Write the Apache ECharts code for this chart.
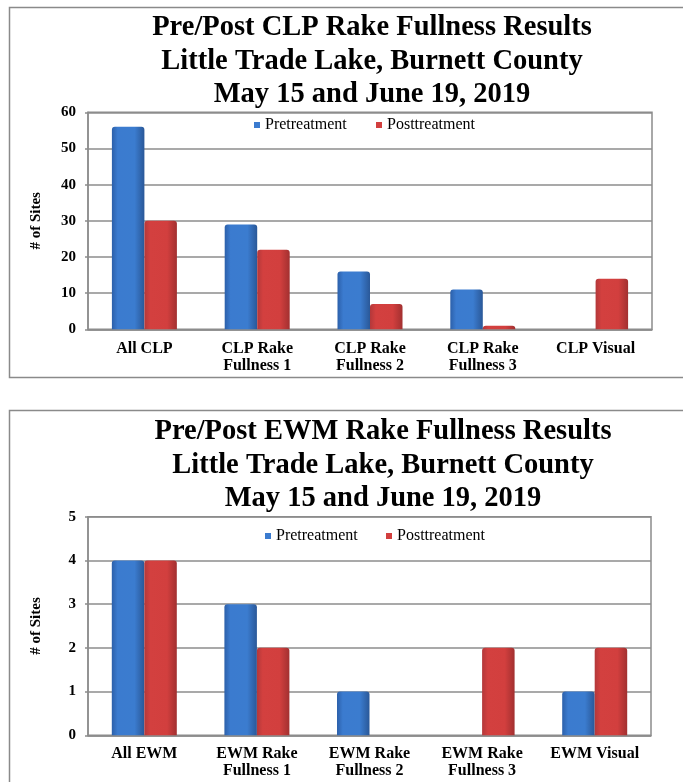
<!DOCTYPE html>
<html>
<head>
<meta charset="utf-8">
<title>Pre/Post Rake Fullness Results – Little Trade Lake</title>
<script src="https://cdn.jsdelivr.net/npm/echarts@6/dist/echarts.min.js"></script>
<style>
  html, body { margin: 0; padding: 0; background: #ffffff; }
  #chart { width: 683px; height: 782px; }
</style>
</head>
<body>
<div id="chart"></div>
<script>
// Curly-leaf pondweed (CLP) survey counts
const clpCategories = ['All CLP', 'CLP Rake\nFullness 1', 'CLP Rake\nFullness 2', 'CLP Rake\nFullness 3', 'CLP Visual'];
const clpPre = [56, 29, 16, 11, 0];
const clpPost = [30, 22, 7, 1, 14];
const clpAxisMax = 60;
const clpAxisStep = 10;

// Eurasian water-milfoil (EWM) survey counts
const ewmCategories = ['All EWM', 'EWM Rake\nFullness 1', 'EWM Rake\nFullness 2', 'EWM Rake\nFullness 3', 'EWM Visual'];
const ewmPre = [4, 3, 1, 0, 1];
const ewmPost = [4, 2, 0, 2, 2];
const ewmAxisMax = 5;
const ewmAxisStep = 1;

const seriesNames = ['Pretreatment', 'Posttreatment'];
const clpTitle = 'Pre/Post CLP Rake Fullness Results\nLittle Trade Lake, Burnett County\nMay 15 and June 19, 2019';
const ewmTitle = 'Pre/Post EWM Rake Fullness Results\nLittle Trade Lake, Burnett County\nMay 15 and June 19, 2019';

const SERIF = "'Liberation Serif', 'Times New Roman', serif";
const GRID_LINE = '#8c8c8c';

// bevelled bar fills: darker edges, lighter centre
const blueFill = new echarts.graphic.LinearGradient(0, 0, 1, 0, [
  { offset: 0, color: '#2c60aa' },
  { offset: 0.18, color: '#3b7bcf' },
  { offset: 0.7, color: '#3b7ccf' },
  { offset: 1, color: '#2a5898' }
]);
const redFill = new echarts.graphic.LinearGradient(0, 0, 1, 0, [
  { offset: 0, color: '#b3383a' },
  { offset: 0.18, color: '#d3403f' },
  { offset: 0.7, color: '#d23f3e' },
  { offset: 1, color: '#a23030' }
]);

function valueAxis(gridIndex, max, step) {
  return {
    type: 'value', gridIndex: gridIndex, min: 0, max: max, interval: step,
    name: '# of Sites', nameLocation: 'middle', nameRotate: 90, nameGap: 44,
    nameTextStyle: { fontFamily: SERIF, fontWeight: 'bold', fontSize: 15, color: '#000' },
    axisLine: { show: true, lineStyle: { color: GRID_LINE, width: 1.5 } },
    axisTick: { show: true, inside: false, length: 3, lineStyle: { color: GRID_LINE, width: 1.5 } },
    axisLabel: { margin: 12, fontFamily: SERIF, fontWeight: 'bold', fontSize: 15, color: '#000' },
    splitLine: { show: true, lineStyle: { color: GRID_LINE, width: 1.5 } }
  };
}

function categoryAxis(gridIndex, cats, margin) {
  return {
    type: 'category', gridIndex: gridIndex, data: cats,
    axisLine: { show: true, lineStyle: { color: GRID_LINE, width: 1.5 } },
    axisTick: { show: false },
    axisLabel: {
      margin: margin, interval: 0, fontFamily: SERIF, fontWeight: 'bold',
      fontSize: 16, lineHeight: 17, color: '#000'
    }
  };
}

function barSeries(name, axisIndex, values, fill) {
  return {
    name: name, type: 'bar', xAxisIndex: axisIndex, yAxisIndex: axisIndex,
    data: values, barWidth: 32.5, barGap: '0%',
    itemStyle: { color: fill, borderRadius: [3, 3, 0, 0] },
    emphasis: { disabled: true }
  };
}

function legendItem(name, left, top, color) {
  return {
    data: [{ name: name, itemStyle: { color: color } }],
    left: left, top: top, padding: 0, icon: 'rect',
    itemWidth: 6, itemHeight: 6,
    textStyle: { fontFamily: SERIF, fontSize: 16, color: '#000' },
    selectedMode: false
  };
}

const titleStyle = {
  fontFamily: SERIF, fontWeight: 'bold', fontSize: 28.5, lineHeight: 33.5, color: '#000'
};

const chart = echarts.init(document.getElementById('chart'), null, { renderer: 'canvas' });

chart.setOption({
  animation: false,
  backgroundColor: '#ffffff',
  title: [
    { text: clpTitle, left: 372, top: 11, textAlign: 'center', padding: 0, textStyle: titleStyle },
    { text: ewmTitle, left: 383, top: 415, textAlign: 'center', padding: 0, textStyle: titleStyle }
  ],
  graphic: [
    { type: 'rect', z: -1, shape: { x: 9.5, y: 7.5, width: 700, height: 370 },
      style: { fill: 'none', stroke: '#8a8a8a', lineWidth: 1.5 } },
    { type: 'rect', z: -1, shape: { x: 9.5, y: 410.5, width: 700, height: 420 },
      style: { fill: 'none', stroke: '#8a8a8a', lineWidth: 1.5 } }
  ],
  legend: [
    legendItem(seriesNames[0], 254, 117, '#3b7bcf'),
    legendItem(seriesNames[1], 376, 117, '#d23f3e'),
    legendItem(seriesNames[0], 265, 528, '#3b7bcf'),
    legendItem(seriesNames[1], 386, 528, '#d23f3e')
  ],
  grid: [
    { left: 88, right: 31, top: 112.3, height: 217, show: true, borderColor: GRID_LINE, borderWidth: 1.5 },
    { left: 88, right: 32, top: 516.7, height: 218.6, show: true, borderColor: GRID_LINE, borderWidth: 1.5 }
  ],
  xAxis: [
    categoryAxis(0, clpCategories, 11),
    categoryAxis(1, ewmCategories, 10)
  ],
  yAxis: [
    valueAxis(0, clpAxisMax, clpAxisStep),
    valueAxis(1, ewmAxisMax, ewmAxisStep)
  ],
  series: [
    barSeries(seriesNames[0], 0, clpPre, blueFill),
    barSeries(seriesNames[1], 0, clpPost, redFill),
    barSeries(seriesNames[0], 1, ewmPre, blueFill),
    barSeries(seriesNames[1], 1, ewmPost, redFill)
  ]
});
</script>
</body>
</html>
